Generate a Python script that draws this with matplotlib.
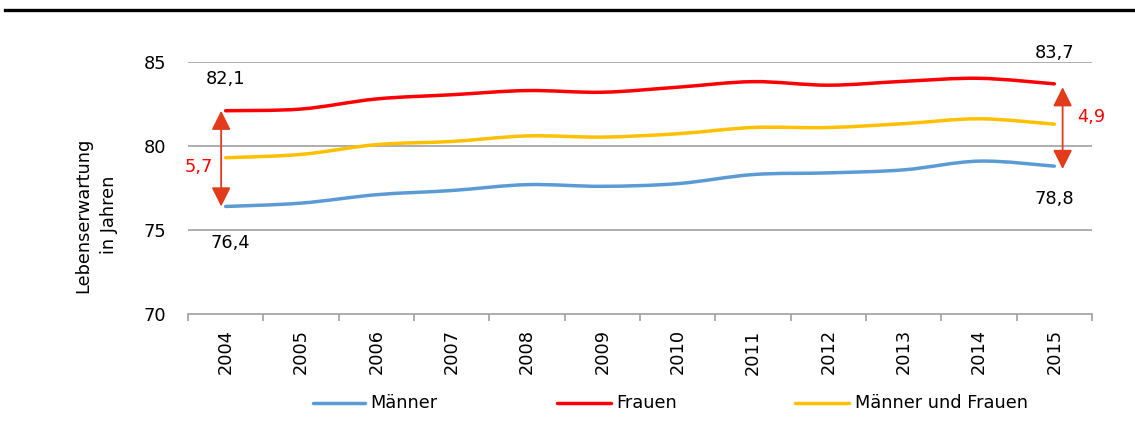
import numpy as np
import matplotlib
matplotlib.use("Agg")
import matplotlib.pyplot as plt
from matplotlib.path import Path
from matplotlib.patches import PathPatch
from matplotlib.lines import Line2D

years = ["2004", "2005", "2006", "2007", "2008", "2009",
         "2010", "2011", "2012", "2013", "2014", "2015"]
maenner = [76.4, 76.6, 77.1, 77.35, 77.7, 77.6, 77.76, 78.3, 78.4, 78.58, 79.1, 78.8]
frauen = [82.1, 82.2, 82.8, 83.05, 83.3, 83.2, 83.5, 83.83, 83.62, 83.85, 84.03, 83.7]
gesamt = [79.3, 79.5, 80.08, 80.27, 80.6, 80.53, 80.73, 81.1, 81.1, 81.33, 81.62, 81.3]
series_names = ["Männer", "Frauen", "Männer und Frauen"]
series_colors = ["#5B9BD5", "#FF0000", "#FFC000"]
yticks = [70, 75, 80, 85]
gap_start = 5.7
gap_end = 4.9

plt.rcParams['font.family'] = ['DejaVu Sans']
FS = 12.8

W, H = 1135, 423
fig = plt.figure(figsize=(W / 100, H / 100), dpi=100)
ax = fig.add_axes([188 / W, 1 - 314 / H, (1092 - 188) / W, (314 - 62) / H])

n = len(years)
x = np.arange(n)


def smooth_path(xs, ys):
    # Cardinal (Catmull-Rom) spline rendered as cubic Bezier segments
    pts = np.column_stack([xs, ys]).astype(float)
    verts = [pts[0]]
    codes = [Path.MOVETO]
    for i in range(len(pts) - 1):
        p0 = pts[i - 1] if i > 0 else pts[i]
        p1 = pts[i]
        p2 = pts[i + 1]
        p3 = pts[i + 2] if i + 2 < len(pts) else pts[i + 1]
        c1 = p1 + (p2 - p0) / 6.0
        c2 = p2 - (p3 - p1) / 6.0
        verts += [c1, c2, p2]
        codes += [Path.CURVE4] * 3
    return Path(verts, codes)


for vals, col in zip([maenner, frauen, gesamt], series_colors):
    ax.add_patch(PathPatch(smooth_path(x, vals), facecolor="none", edgecolor=col,
                           lw=2.5, capstyle="round", joinstyle="round", zorder=3))

ax.set_xlim(-0.5, n - 0.5)
ax.set_ylim(70, 85)
ax.set_yticks(yticks)
ax.set_yticklabels([str(v) for v in yticks], fontsize=FS)
ax.tick_params(axis="y", length=0, pad=16)
for v in yticks[1:]:
    ax.axhline(v, color="#A0A0A0", lw=1.2, zorder=1)

for s in ["top", "right", "left"]:
    ax.spines[s].set_visible(False)
ax.spines["bottom"].set_color("#A0A0A0")
ax.spines["bottom"].set_linewidth(1.2)
ax.set_xticks(np.arange(-0.5, n, 1.0))
ax.set_xticklabels([])
ax.tick_params(axis="x", which="major", length=5, color="#A0A0A0", width=1.2, direction="out")
ax.set_xticks(x, minor=True)
ax.set_xticklabels(years, minor=True, rotation=90, fontsize=FS)
ax.tick_params(axis="x", which="minor", length=0, pad=11)


def fmt(v):
    return f"{v:.1f}".replace(".", ",")


# value labels at both ends
ax.text(0.0, frauen[0] + 1.88, fmt(frauen[0]), fontsize=FS, ha="center", va="center")
ax.text(0.06, maenner[0] - 2.15, fmt(maenner[0]), fontsize=FS, ha="center", va="center")
ax.text(11.0, frauen[-1] + 1.83, fmt(frauen[-1]), fontsize=FS, ha="center", va="center")
ax.text(11.0, maenner[-1] - 1.95, fmt(maenner[-1]), fontsize=FS, ha="center", va="center")

# gap arrows
arrow_col = "#E23B1B"
arrow_kw = dict(arrowstyle="<|-|>,head_length=0.9,head_width=0.45", color=arrow_col,
                lw=1.3, mutation_scale=13, shrinkA=0, shrinkB=0)
ax.annotate("", xy=(-0.06, maenner[0]), xytext=(-0.06, frauen[0]),
            arrowprops=arrow_kw, zorder=4)
ax.text(-0.17, (frauen[0] + maenner[0]) / 2 - 0.48, fmt(gap_start),
        color="#FF0000", fontsize=FS, ha="right", va="center")
ax.annotate("", xy=(11.11, maenner[-1] - 0.17), xytext=(11.11, frauen[-1] - 0.2),
            arrowprops=arrow_kw, zorder=4)
ax.text(11.3, (frauen[-1] + maenner[-1]) / 2 + 0.48, fmt(gap_end),
        color="#FF0000", fontsize=FS, ha="left", va="center")

# axis title
fig.text(96 / W, 1 - 215 / H, "Lebenserwartung\nin Jahren", rotation=90,
         ha="center", va="center", fontsize=FS, linespacing=1.55)

# legend drawn along the bottom
leg_y = 1 - 403 / H
legend_x = [(313, 365, 370), (557, 611, 616), (795, 849, 855)]
for (x0, x1, tx), name, col in zip(legend_x, series_names, series_colors):
    fig.add_artist(Line2D([x0 / W, x1 / W], [leg_y, leg_y], color=col, lw=2.5,
                          solid_capstyle="round", transform=fig.transFigure))
    fig.text(tx / W, leg_y, name, fontsize=FS, ha="left", va="center")

# top rule
fig.add_artist(Line2D([5 / W, 1.0], [1 - 10 / H, 1 - 10 / H], color="black", lw=2.4,
                      transform=fig.transFigure))

fig.savefig("out.png", dpi=100)
